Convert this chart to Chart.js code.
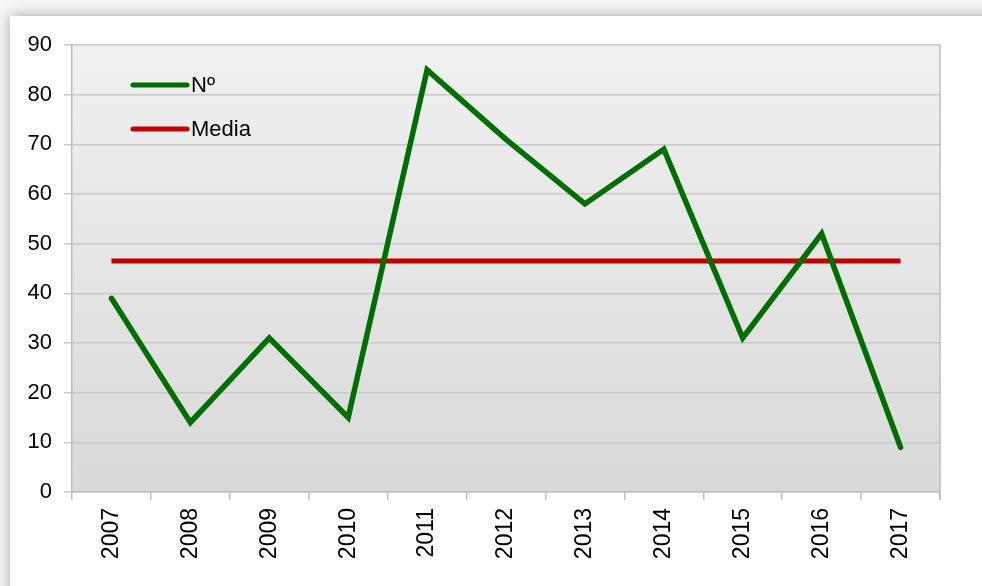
<!DOCTYPE html>
<html lang="es">
<head>
  <meta charset="UTF-8" />
  <title>Nº por año</title>
  <script src="https://cdn.jsdelivr.net/npm/chart.js"></script>
  <style>
    html, body {
      margin: 0;
      padding: 0;
      width: 982px;
      height: 586px;
      overflow: hidden;
      background: #f7f7f7;
      font-family: 'Liberation Sans', Arial, sans-serif;
    }

    .card {
      position: absolute;
      left: 10px;
      top: 16px;
      width: 990px;
      height: 600px;
      background: #fff;
      box-shadow: 0 0 14px rgba(0, 0, 0, 0.34);
    }

    #chartBox {
      position: absolute;
      left: 0;
      top: 0;
      width: 982px;
      height: 586px;
    }
  </style>
</head>
<body>
  <div class="card"></div>
  <div id="chartBox"><canvas id="lineChart"></canvas></div>

  <script>
    const years = ['2007', '2008', '2009', '2010', '2011', '2012', '2013', '2014', '2015', '2016', '2017'];
    const numValues = [39, 14, 31, 15, 85, 71, 58, 69, 31, 52, 9];
    const mediaValues = [46.5, 46.5, 46.5, 46.5, 46.5, 46.5, 46.5, 46.5, 46.5, 46.5, 46.5];
    const yTicks = [0, 10, 20, 30, 40, 50, 60, 70, 80, 90];

    const fontFamily = "'Liberation Sans', Arial, sans-serif";

    // plot background gradient + right frame edge
    const plotFrame = {
      id: 'plotFrame',
      beforeDraw(chart) {
        const { ctx, chartArea: a } = chart;
        const g = ctx.createLinearGradient(0, a.top, 0, a.bottom);
        g.addColorStop(0, '#f1f1f1');
        g.addColorStop(1, '#d9d9d9');
        ctx.save();
        ctx.fillStyle = g;
        ctx.fillRect(a.left, a.top, a.right - a.left, a.bottom - a.top);
        ctx.restore();
      },
      afterDraw(chart) {
        const { ctx, chartArea: a } = chart;
        ctx.save();
        ctx.strokeStyle = '#bdbdbd';
        ctx.lineWidth = 1.5;
        ctx.beginPath();
        ctx.moveTo(a.right, a.top);
        ctx.lineTo(a.right, a.bottom + 8);
        ctx.stroke();
        ctx.restore();
      }
    };

    // legend drawn inside the plot, top-left
    const innerLegend = {
      id: 'innerLegend',
      afterDraw(chart) {
        const { ctx } = chart;
        const x0 = 133, x1 = 187, rowY = [85, 129];
        ctx.save();
        chart.data.datasets.forEach((ds, i) => {
          ctx.strokeStyle = ds.borderColor;
          ctx.lineWidth = 5;
          ctx.lineCap = 'round';
          ctx.beginPath();
          ctx.moveTo(x0, rowY[i]);
          ctx.lineTo(x1, rowY[i]);
          ctx.stroke();
          ctx.fillStyle = '#000';
          ctx.font = `22px ${fontFamily}`;
          ctx.textBaseline = 'middle';
          ctx.textAlign = 'left';
          ctx.fillText(ds.label, x1 + 4, rowY[i] + 1);
        });
        ctx.restore();
      }
    };

    new Chart(document.getElementById('lineChart'), {
      type: 'line',
      data: {
        labels: years,
        datasets: [
          {
            label: 'Nº',
            data: numValues,
            borderColor: '#006e00',
            borderWidth: 5.5,
            pointRadius: 0,
            tension: 0,
            borderJoinStyle: 'miter',
            borderCapStyle: 'round'
          },
          {
            label: 'Media',
            data: mediaValues,
            borderColor: '#c00000',
            borderWidth: 5,
            pointRadius: 0,
            tension: 0
          }
        ]
      },
      options: {
        responsive: true,
        maintainAspectRatio: false,
        animation: false,
        layout: { padding: { left: 0, top: 45, right: 42, bottom: 0 } },
        plugins: {
          legend: { display: false },
          tooltip: { enabled: false }
        },
        scales: {
          x: {
            offset: true,
            afterFit: s => { s.height = 94; },
            grid: {
              offset: true,
              drawOnChartArea: false,
              drawTicks: true,
              tickLength: 8,
              color: '#bdbdbd',
              lineWidth: 1.5
            },
            border: { color: '#bdbdbd', width: 1.5 },
            ticks: {
              minRotation: 90,
              maxRotation: 90,
              padding: 8,
              color: '#000',
              font: { family: fontFamily, size: 23 }
            }
          },
          y: {
            min: 0,
            max: 90,
            afterFit: s => { s.width = 72; },
            afterBuildTicks: s => { s.ticks = yTicks.map(v => ({ value: v })); },
            grid: {
              color: '#c8c8c8',
              lineWidth: 1.5,
              tickLength: 8
            },
            border: { color: '#bdbdbd', width: 1.5 },
            ticks: {
              padding: 12,
              color: '#000',
              font: { family: fontFamily, size: 22 }
            }
          }
        }
      },
      plugins: [plotFrame, innerLegend]
    });
  </script>
</body>
</html>
